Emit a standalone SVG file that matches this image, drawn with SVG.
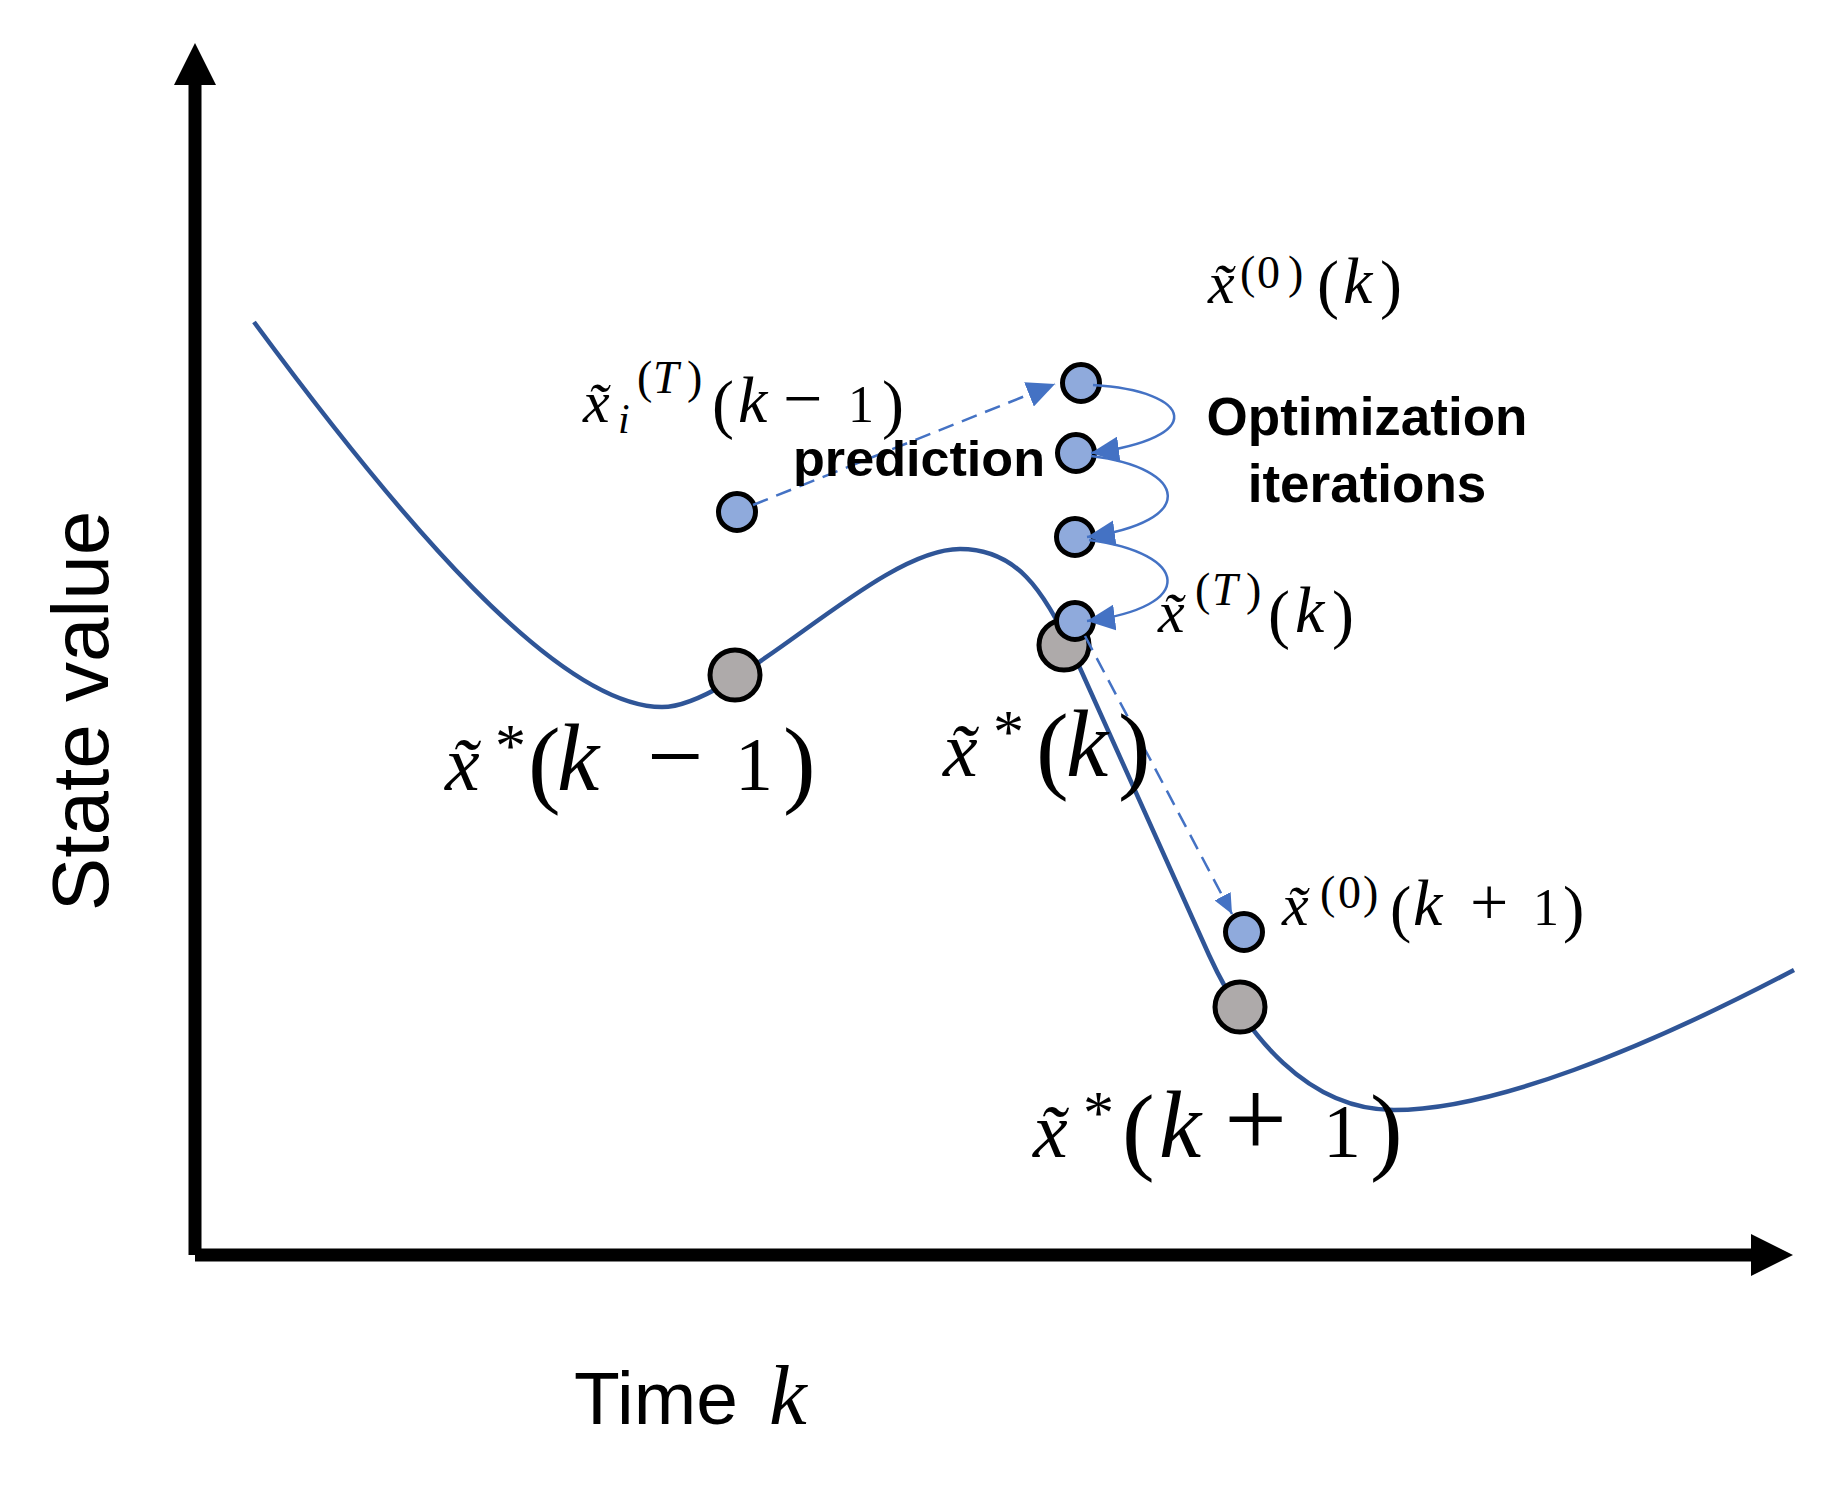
<svg xmlns="http://www.w3.org/2000/svg" width="1836" height="1490" viewBox="0 0 1836 1490">
<style>
.m{font-family:"Liberation Serif","DejaVu Serif",serif;fill:#000}
.it{font-style:italic}
.s{font-family:"Liberation Sans",Arial,sans-serif;fill:#000}
.b{font-weight:bold}
.blue{fill:#8FAADC;stroke:#000;stroke-width:5}
.gray{fill:#AEAAAA;stroke:#000;stroke-width:5}
.conn{fill:none;stroke:#4472C4;stroke-width:2.5}
.dash{stroke-dasharray:16 9}
.ax{stroke:#000;stroke-width:13}
</style>
<defs>
<marker id="ah" markerUnits="userSpaceOnUse" markerWidth="30" markerHeight="26" refX="28" refY="13" orient="auto"><path d="M0,0 L28,13 L0,26 z" fill="#4472C4"/></marker>
<marker id="ahs" markerUnits="userSpaceOnUse" markerWidth="22" markerHeight="18" refX="20" refY="9" orient="auto"><path d="M0,0 L20,9 L0,18 z" fill="#4472C4"/></marker>
</defs>
<rect width="1836" height="1490" fill="#fff"/>
<g id="axes">
<line class="ax" x1="195" y1="1255" x2="195" y2="82"/>
<polygon points="195,43 174,85 216,85" fill="#000"/>
<line class="ax" x1="195" y1="1255" x2="1753" y2="1255"/>
<polygon points="1793,1255 1751,1234 1751,1276" fill="#000"/>
</g>
<g id="curve">
<path d="M254,322 C398,517 557,707 662,707 C736,707 876,549 960,549 C1015,549 1043,587 1075,657 L1209,955 C1246,1036 1308,1110 1394,1110 C1492,1110 1642,1050 1794,970" fill="none" stroke="#2F5597" stroke-width="4.5"/>
</g>
<g id="node-xstar-km1"><circle class="gray" cx="735" cy="675" r="25"/></g>
<g id="node-xstar-k"><circle class="gray" cx="1064" cy="645" r="25"/></g>
<g id="node-xstar-kp1"><circle class="gray" cx="1240" cy="1007" r="25"/></g>
<g id="node-xT-km1"><circle class="blue" cx="737" cy="512" r="18.5"/></g>
<g id="node-x0-k"><circle class="blue" cx="1081" cy="383" r="18.5"/></g>
<g id="node-x1-k"><circle class="blue" cx="1076" cy="453" r="18.5"/></g>
<g id="node-x2-k"><circle class="blue" cx="1075" cy="537" r="18.5"/></g>
<g id="node-xT-k"><circle class="blue" cx="1075" cy="621" r="18.5"/></g>
<g id="node-x0-kp1"><circle class="blue" cx="1244" cy="932" r="18.5"/></g>
<g id="connectors">
<path class="conn dash" d="M753,505 L1055,384" marker-end="url(#ah)"/>
<path class="conn dash" d="M1085,636 L1232,914" marker-end="url(#ahs)"/>
<path class="conn" d="M1093,385 C1194,391 1209,438 1091,453" marker-end="url(#ah)"/>
<path class="conn" d="M1091,456 C1189,468 1199,522 1087,537" marker-end="url(#ah)"/>
<path class="conn" d="M1089,540 C1189,553 1199,607 1087,621" marker-end="url(#ah)"/>
</g>
<g id="labels">
<text class="s" font-size="80" transform="translate(108,711) rotate(-90)" text-anchor="middle">State value</text>
<text class="s" font-size="75" x="574" y="1424">Time</text>
<text class="m it" font-size="85" x="769" y="1424">k</text>
<text class="s b" font-size="50" x="793" y="476" textLength="252" lengthAdjust="spacingAndGlyphs">prediction</text>
<text class="s b" font-size="53" x="1367" y="435" text-anchor="middle">Optimization</text>
<text class="s b" font-size="53" x="1367" y="502" text-anchor="middle">iterations</text>
</g>
<g id="label-xstar-km1">
<text class="m"><tspan class="it" font-size="78" x="445" y="790">x&#x303;</tspan><tspan font-size="62" x="495" y="766">*</tspan><tspan font-size="98" x="528" y="795">(</tspan><tspan class="it" font-size="95" x="557" y="790">k</tspan><tspan font-size="100" x="647" y="790">−</tspan><tspan font-size="76" x="735" y="790">1</tspan><tspan font-size="98" x="783" y="795">)</tspan></text>
</g>
<g id="label-xstar-k">
<text class="m"><tspan class="it" font-size="78" x="943" y="776">x&#x303;</tspan><tspan font-size="62" x="993" y="752">*</tspan><tspan font-size="98" x="1036" y="781">(</tspan><tspan class="it" font-size="95" x="1066" y="776">k</tspan><tspan font-size="98" x="1118" y="781">)</tspan></text>
</g>
<g id="label-xstar-kp1">
<text class="m"><tspan class="it" font-size="78" x="1033" y="1157">x&#x303;</tspan><tspan font-size="62" x="1083" y="1133">*</tspan><tspan font-size="98" x="1122" y="1162">(</tspan><tspan class="it" font-size="95" x="1159" y="1157">k</tspan><tspan font-size="112" x="1224" y="1157">+</tspan><tspan font-size="76" x="1323" y="1157">1</tspan><tspan font-size="98" x="1370" y="1162">)</tspan></text>
</g>
<g id="label-x0-k">
<text class="m"><tspan class="it" font-size="60" x="1208" y="303">x&#x303;</tspan><tspan font-size="46" x="1240" y="288">(</tspan><tspan font-size="46" x="1257" y="288">0</tspan><tspan font-size="46" x="1288" y="288">)</tspan><tspan font-size="66" x="1317" y="306">(</tspan><tspan class="it" font-size="66" x="1343" y="303">k</tspan><tspan font-size="66" x="1380" y="306">)</tspan></text>
</g>
<g id="label-xT-km1">
<text class="m"><tspan class="it" font-size="60" x="583" y="422">x&#x303;</tspan><tspan class="it" font-size="42" x="618" y="433">i</tspan><tspan font-size="46" x="637" y="393">(</tspan><tspan class="it" font-size="46" x="653" y="393">T</tspan><tspan font-size="46" x="687" y="393">)</tspan><tspan font-size="66" x="712" y="426">(</tspan><tspan class="it" font-size="66" x="738" y="422">k</tspan><tspan font-size="70" x="783" y="422">−</tspan><tspan font-size="52" x="848" y="422">1</tspan><tspan font-size="66" x="882" y="426">)</tspan></text>
</g>
<g id="label-xT-k">
<text class="m"><tspan class="it" font-size="60" x="1158" y="632">x&#x303;</tspan><tspan font-size="46" x="1195" y="605">(</tspan><tspan class="it" font-size="46" x="1212" y="605">T</tspan><tspan font-size="46" x="1246" y="605">)</tspan><tspan font-size="66" x="1268" y="636">(</tspan><tspan class="it" font-size="66" x="1295" y="632">k</tspan><tspan font-size="66" x="1332" y="636">)</tspan></text>
</g>
<g id="label-x0-kp1">
<text class="m"><tspan class="it" font-size="60" x="1282" y="925">x&#x303;</tspan><tspan font-size="46" x="1320" y="908">(</tspan><tspan font-size="46" x="1338" y="908">0</tspan><tspan font-size="46" x="1363" y="908">)</tspan><tspan font-size="64" x="1390" y="930">(</tspan><tspan class="it" font-size="66" x="1413" y="925">k</tspan><tspan font-size="68" x="1470" y="925">+</tspan><tspan font-size="52" x="1533" y="925">1</tspan><tspan font-size="64" x="1563" y="930">)</tspan></text>
</g>
</svg>
